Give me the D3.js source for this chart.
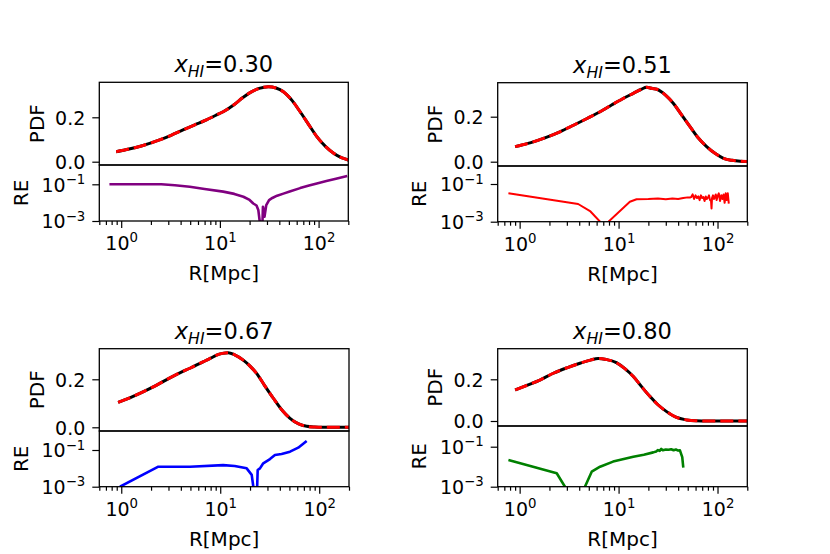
<!DOCTYPE html>
<html>
<head>
<meta charset="utf-8">
<script src="https://cdn.jsdelivr.net/npm/d3@7"></script>
<style>
body { margin: 0; background: #fff; }
text { font-family: "DejaVu Sans", sans-serif; fill: #000; }
</style>
</head>
<body>
<svg id="chart" width="830" height="554"></svg>
<script>
// neutral fraction of each panel
var xHI = ["0.30", "0.51", "0.67", "0.80"];
var reColors = ["#800080", "#ff0000", "#0000ff", "#008000"];

// PDF curves (R in Mpc)
var pdfR030 = [0.89, 1.2, 1.6, 2.45, 3.2, 4.23, 5.5, 7.3, 9, 10.8, 14, 17, 20.2, 25, 31, 37, 44, 54, 65, 80, 96, 118, 142, 170, 200];
var pdf030 = [0.045, 0.057, 0.071, 0.098, 0.119, 0.143, 0.165, 0.188, 0.208, 0.225, 0.258, 0.288, 0.311, 0.330, 0.338, 0.332, 0.315, 0.275, 0.225, 0.165, 0.113, 0.068, 0.038, 0.018, 0.008];

var pdfR051 = [0.9, 1.3, 1.8, 2.55, 3.5, 4.8, 6.5, 8.5, 11, 14.1, 17, 19.2, 22, 24.3, 30, 35.7, 43, 52.7, 64, 77.6, 95, 115, 140, 170, 200];
var pdf051 = [0.067, 0.085, 0.106, 0.133, 0.162, 0.192, 0.222, 0.252, 0.280, 0.304, 0.322, 0.331, 0.325, 0.322, 0.295, 0.260, 0.210, 0.156, 0.105, 0.067, 0.036, 0.015, 0.006, 0.002, 0.001];

var pdfR067 = [0.93, 1.3, 1.7, 2.28, 3.1, 4.0, 4.95, 6.7, 8, 9.2, 10.5, 12, 14, 17.1, 20, 23.3, 28, 34.4, 42, 50.7, 62, 74.7, 90, 110, 140, 170, 200];
var pdf067 = [0.104, 0.128, 0.150, 0.176, 0.206, 0.229, 0.246, 0.273, 0.288, 0.301, 0.308, 0.311, 0.302, 0.280, 0.255, 0.225, 0.175, 0.121, 0.072, 0.0375, 0.014, 0.004, 0.001, 0, 0, 0, 0];

var pdfR080 = [0.9, 1.2, 1.6, 2.19, 3.0, 4.07, 5.2, 6.2, 7.5, 9.5, 11.5, 14.1, 17, 20.8, 25, 30.6, 38, 48.8, 60, 80, 110, 150, 200];
var pdf080 = [0.149, 0.172, 0.196, 0.229, 0.255, 0.277, 0.292, 0.300, 0.295, 0.280, 0.252, 0.213, 0.166, 0.117, 0.078, 0.045, 0.018, 0.005, 0.001, 0, 0, 0, 0];

// relative error curves
var reR030 = [0.76, 1.0, 1.5, 2.55, 3.5, 4.95, 7.0, 10.8, 14, 17.3, 20, 21.8, 23.5, 24.5, 25.3, 26, 26.8, 27.3, 28.3, 29.5, 31.5, 34, 38, 44, 51, 65, 80, 96, 120, 150, 195];
var re030 = [0.1, 0.1, 0.1, 0.1, 0.088, 0.074, 0.056, 0.04, 0.03, 0.021, 0.014, 0.009, 0.007, 0.004, 0.001, 0.0002, 0.0002, 0.006, 0.0017, 0.0074, 0.0139, 0.018, 0.024, 0.031, 0.04, 0.062, 0.085, 0.112, 0.15, 0.2, 0.28];

var reR051 = [0.77, 3.9, 5.2, 6.5, 7.0, 7.9, 13, 15.2, 20, 25, 30, 35, 40, 45, 50, 52.7, 54, 56, 58, 60, 62, 64, 66, 68, 70, 72, 74, 76, 78, 80, 82, 84, 86, 87, 88, 90, 92, 94, 96, 98, 100, 103, 106, 109, 112, 115, 118, 121, 124, 127, 130];
var re051 = [0.032, 0.0087, 0.0035, 0.001, 0.0003, 0.001, 0.0115, 0.0155, 0.0158, 0.017, 0.0155, 0.017, 0.016, 0.018, 0.0195, 0.019, 0.02, 0.028, 0.016, 0.025, 0.018, 0.022, 0.014, 0.025, 0.018, 0.02, 0.0126, 0.022, 0.016, 0.019, 0.025, 0.014, 0.0126, 0.005, 0.018, 0.025, 0.016, 0.02, 0.028, 0.014, 0.022, 0.032, 0.0126, 0.025, 0.016, 0.028, 0.01, 0.032, 0.014, 0.032, 0.009];

var reR067 = [0.97, 2.37, 4.95, 10.7, 14, 18.5, 20.8, 21.6, 22.6, 23.4, 23.9, 25.2, 27.2, 31.8, 35.7, 41.7, 50.7, 61.4, 74.7];
var re067 = [0.001, 0.0123, 0.0123, 0.015, 0.0135, 0.01, 0.0044, 0.001, 0.0002, 0.0002, 0.0081, 0.01, 0.0188, 0.032, 0.053, 0.06, 0.081, 0.134, 0.31];

var reR080 = [0.77, 2.37, 2.87, 3.3, 4.2, 4.57, 5.35, 6.5, 8.8, 14.1, 18, 22.4, 24, 25, 26, 27, 28, 30, 32, 34, 36, 38, 40, 41.7, 43.3, 44, 45.1];
var re080 = [0.0214, 0.0047, 0.001, 0.0002, 0.0002, 0.001, 0.0056, 0.01, 0.018, 0.0316, 0.04, 0.052, 0.058, 0.068, 0.062, 0.077, 0.066, 0.072, 0.07, 0.075, 0.066, 0.072, 0.064, 0.066, 0.038, 0.03, 0.009];

// ticks
var xMajor = [1, 10, 100];
var xExp = ["0", "1", "2"];
var xMinor = [0.6, 0.7, 0.8, 0.9, 2, 3, 4, 5, 6, 7, 8, 9, 20, 30, 40, 50, 60, 70, 80, 90, 200];
var pdfTicks = [0, 0.2];
var reTicks = [1e-3, 1e-1];
var reExp = ["\u22123", "\u22121"];

var pdfRs = [pdfR030, pdfR051, pdfR067, pdfR080];
var pdfVs = [pdf030, pdf051, pdf067, pdf080];
var reRs = [reR030, reR051, reR067, reR080];
var reVs = [re030, re051, re067, re080];

// panel boxes: p0/p2 = pixel of PDF 0.0/0.2, r1 = pixel of RE 1e-1
var boxes = [
    {x0: 99.3, x1: 348.3, top: 82.3, mid: 165, bot: 221, p0: 161.7, p2: 117.3, r1: 184.3, reW: 2.6},
    {x0: 497.7, x1: 747.3, top: 82.7, mid: 166, bot: 221.7, p0: 161.7, p2: 116.7, r1: 184, reW: 2},
    {x0: 99.3, x1: 349, top: 348.7, mid: 431, bot: 486.7, p0: 427.3, p2: 379.3, r1: 450, reW: 2.6},
    {x0: 497.7, x1: 747.3, top: 348.7, mid: 426, bot: 486.7, p0: 421, p2: 379.3, r1: 446.7, reW: 2.6}
];

var svg = d3.select("#chart");
var tickFs = 19, labelFs = 20, titleFs = 22.5;

function powLabel(sel, exp) {
    sel.text(null);
    sel.append("tspan").text("10");
    sel.append("tspan").attr("font-size", tickFs * 0.7).attr("dy", -tickFs * 0.4).text(exp);
}

boxes.forEach(function(b, i) {
    var g = svg.append("g");
    var w = b.x1 - b.x0;

    var x = d3.scaleLog().domain([0.6, 200]).range([b.x0, b.x1]);
    var yp = d3.scaleLinear().domain([0, 0.2]).range([b.p0, b.p2]);
    var yr = d3.scaleLog().domain([1e-3, 1e-1]).range([b.bot, b.r1]);

    svg.append("clipPath").attr("id", "cp" + i)
        .append("rect").attr("x", b.x0).attr("y", b.top).attr("width", w).attr("height", b.mid - b.top);
    svg.append("clipPath").attr("id", "cr" + i)
        .append("rect").attr("x", b.x0).attr("y", b.mid).attr("width", w).attr("height", b.bot - b.mid);

    var pdfData = pdfRs[i].map(function(r, k) { return [r, pdfVs[i][k]]; });
    var reData = reRs[i].map(function(r, k) { return [r, reVs[i][k]]; });

    var pdfLine = d3.line()
        .x(function(d) { return x(d[0]); })
        .y(function(d) { return yp(d[1]); })
        .curve(d3.curveMonotoneX);
    var reLine = d3.line()
        .x(function(d) { return x(d[0]); })
        .y(function(d) { return yr(Math.max(d[1], 1e-6)); });

    var gp = g.append("g").attr("clip-path", "url(#cp" + i + ")");
    gp.append("path").datum(pdfData).attr("d", pdfLine)
        .attr("fill", "none").attr("stroke", "#000").attr("stroke-width", 3);
    gp.append("path").datum(pdfData).attr("d", pdfLine)
        .attr("fill", "none").attr("stroke", "#ff0000").attr("stroke-width", 3)
        .attr("stroke-dasharray", "13,5");

    g.append("g").attr("clip-path", "url(#cr" + i + ")")
        .append("path").datum(reData).attr("d", reLine)
        .attr("fill", "none").attr("stroke", reColors[i]).attr("stroke-width", b.reW)
        .attr("stroke-linejoin", "round");

    // frames
    g.append("rect").attr("x", b.x0).attr("y", b.top).attr("width", w).attr("height", b.mid - b.top)
        .attr("fill", "none").attr("stroke", "#000").attr("stroke-width", 1.3);
    g.append("rect").attr("x", b.x0).attr("y", b.mid).attr("width", w).attr("height", b.bot - b.mid)
        .attr("fill", "none").attr("stroke", "#000").attr("stroke-width", 1.3);

    // x axis (bottom of RE panel)
    var xa = g.append("g").attr("transform", "translate(0," + b.bot + ")");
    xa.call(d3.axisBottom(x).tickValues(xMinor).tickSize(4).tickSizeOuter(0).tickFormat(""));
    xa.append("g").call(d3.axisBottom(x).tickValues(xMajor).tickSize(7).tickSizeOuter(0));
    xa.selectAll(".domain").remove();
    xa.selectAll("line").attr("stroke-width", 1.2);
    xa.selectAll(".tick text").each(function(d, k) {
        var t = d3.select(this)
            .attr("y", 29).attr("dy", 0)
            .attr("font-size", tickFs).attr("font-family", "DejaVu Sans").attr("fill", "#000");
        if (xMajor.indexOf(d) >= 0) powLabel(t, xExp[xMajor.indexOf(d)]);
    });

    // y axis PDF
    var ya = g.append("g").attr("transform", "translate(" + b.x0 + ",0)");
    ya.call(d3.axisLeft(yp).tickValues(pdfTicks).tickSize(7).tickSizeOuter(0).tickFormat(d3.format(".1f")));
    ya.selectAll(".domain").remove();
    ya.selectAll("line").attr("stroke-width", 1.2);
    ya.selectAll("text").attr("x", -14).attr("dy", "0.36em")
        .attr("font-size", tickFs).attr("font-family", "DejaVu Sans").attr("fill", "#000");

    // y axis RE
    var yb = g.append("g").attr("transform", "translate(" + b.x0 + ",0)");
    yb.call(d3.axisLeft(yr).tickValues(reTicks).tickSize(7).tickSizeOuter(0));
    yb.selectAll(".domain").remove();
    yb.selectAll("line").attr("stroke-width", 1.2);
    yb.selectAll(".tick text").each(function(d) {
        var t = d3.select(this).attr("x", -14).attr("dy", "0.36em")
            .attr("font-size", tickFs).attr("font-family", "DejaVu Sans").attr("fill", "#000");
        powLabel(t, reExp[reTicks.indexOf(d)]);
    });

    // axis labels
    g.append("text").attr("transform", "translate(" + (b.x0 - 63) + "," + ((b.top + b.mid) / 2) + ") rotate(-90)")
        .attr("text-anchor", "middle").attr("dy", "0.36em").attr("font-size", labelFs).text("PDF");
    g.append("text").attr("transform", "translate(" + (b.x0 - 79) + "," + ((b.mid + b.bot) / 2) + ") rotate(-90)")
        .attr("text-anchor", "middle").attr("dy", "0.36em").attr("font-size", labelFs).text("RE");
    g.append("text").attr("x", (b.x0 + b.x1) / 2).attr("y", b.bot + 59)
        .attr("text-anchor", "middle").attr("font-size", labelFs).text("R[Mpc]");

    // title
    var tt = g.append("text").attr("x", (b.x0 + b.x1) / 2).attr("y", b.top - 10)
        .attr("text-anchor", "middle").attr("font-size", titleFs);
    tt.append("tspan").attr("font-style", "italic").text("x");
    tt.append("tspan").attr("font-style", "italic").attr("font-size", titleFs * 0.7).attr("dy", 5).text("HI");
    tt.append("tspan").attr("dy", -5).text("=" + xHI[i]);
});
</script>
</body>
</html>
